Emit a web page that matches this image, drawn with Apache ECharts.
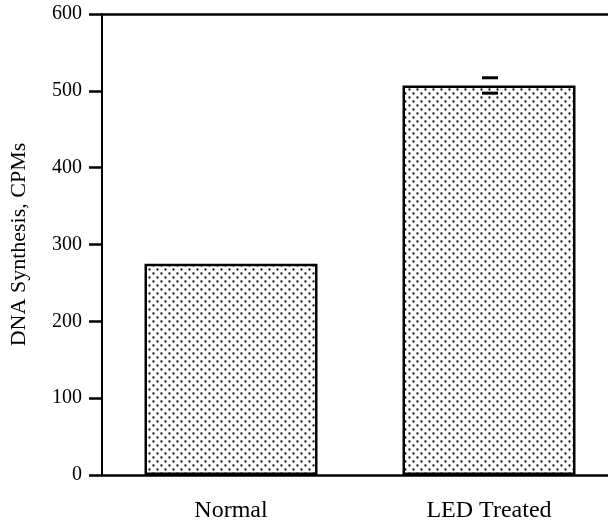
<!DOCTYPE html>
<html>
<head>
<meta charset="utf-8">
<script src="https://cdn.jsdelivr.net/npm/echarts@6/dist/echarts.min.js"></script>
<style>html,body{margin:0;padding:0;background:#fff;}#c{width:608px;height:526px;}</style>
</head>
<body>
<div id="c"></div>
<script>
var categories = ['Normal', 'LED Treated'];
var values = [275, 507];
var errors = [0, 10];
var yTicks = [0, 100, 200, 300, 400, 500, 600];

var FONT = '"Liberation Serif", "Times New Roman", serif';

function makePattern() {
  var cv = document.createElement('canvas');
  cv.width = 8; cv.height = 8;
  var ctx = cv.getContext('2d');
  ctx.fillStyle = '#ffffff';
  ctx.fillRect(0, 0, 8, 8);
  ctx.fillStyle = '#111111';
  ctx.beginPath(); ctx.arc(1.5, 1.5, 1.15, 0, Math.PI * 2); ctx.fill();
  ctx.beginPath(); ctx.arc(5.5, 5.5, 1.15, 0, Math.PI * 2); ctx.fill();
  return cv;
}

var chart = echarts.init(document.getElementById('c'), null, {renderer: 'canvas'});
var errData = categories.map(function (c, i) { return [i, values[i] - errors[i], values[i] + errors[i]]; })
  .filter(function (d, i) { return errors[i] > 0; });

chart.setOption({
  animation: false,
  grid: {left: 102, top: 14, width: 516, height: 461, outerBoundsMode: 'none', containLabel: false},
  xAxis: [{
    type: 'category',
    data: categories,
    position: 'bottom',
    axisLine: {lineStyle: {color: '#000', width: 2.5}},
    axisTick: {alignWithLabel: true, length: 11, lineStyle: {color: '#000', width: 2}},
    axisLabel: {color: '#000', fontSize: 24, fontFamily: FONT, margin: 24},
    splitLine: {show: false}
  }, {
    type: 'category',
    data: categories,
    position: 'top',
    axisLine: {lineStyle: {color: '#000', width: 2.5}},
    axisTick: {show: false},
    axisLabel: {show: false}
  }],
  yAxis: {
    type: 'value',
    min: 0, max: 600, interval: 100,
    name: 'DNA Synthesis, CPMs',
    nameLocation: 'middle',
    nameGap: 72,
    nameTextStyle: {color: '#000', fontSize: 22, fontFamily: FONT},
    axisLine: {show: true, lineStyle: {color: '#000', width: 2}},
    axisTick: {show: true, length: 13, lineStyle: {color: '#000', width: 2.5}},
    axisLabel: {color: '#000', fontSize: 20, fontFamily: FONT, margin: 20,
      formatter: function (v) { return yTicks.indexOf(v) >= 0 ? String(v) : ''; }},
    splitLine: {show: false}
  },
  series: [{
    type: 'bar',
    data: values,
    barWidth: 173,
    itemStyle: {
      color: {image: makePattern(), repeat: 'repeat'},
      borderColor: '#000',
      borderWidth: 2.5
    }
  }, {
    type: 'custom',
    data: errData,
    z: 10,
    renderItem: function (params, api) {
      var x = api.value(0);
      var lo = api.coord([x, api.value(1)]);
      var hi = api.coord([x, api.value(2)]);
      var hw = 8;
      var cx = lo[0] + 1;
      return {
        type: 'group',
        children: [
          {type: 'line', shape: {x1: cx - hw, y1: hi[1], x2: cx + hw, y2: hi[1]}, style: {stroke: '#000', lineWidth: 3}},
          {type: 'line', shape: {x1: cx - hw, y1: lo[1], x2: cx + hw, y2: lo[1]}, style: {stroke: '#000', lineWidth: 3}}
        ]
      };
    }
  }]
});
</script>
</body>
</html>
